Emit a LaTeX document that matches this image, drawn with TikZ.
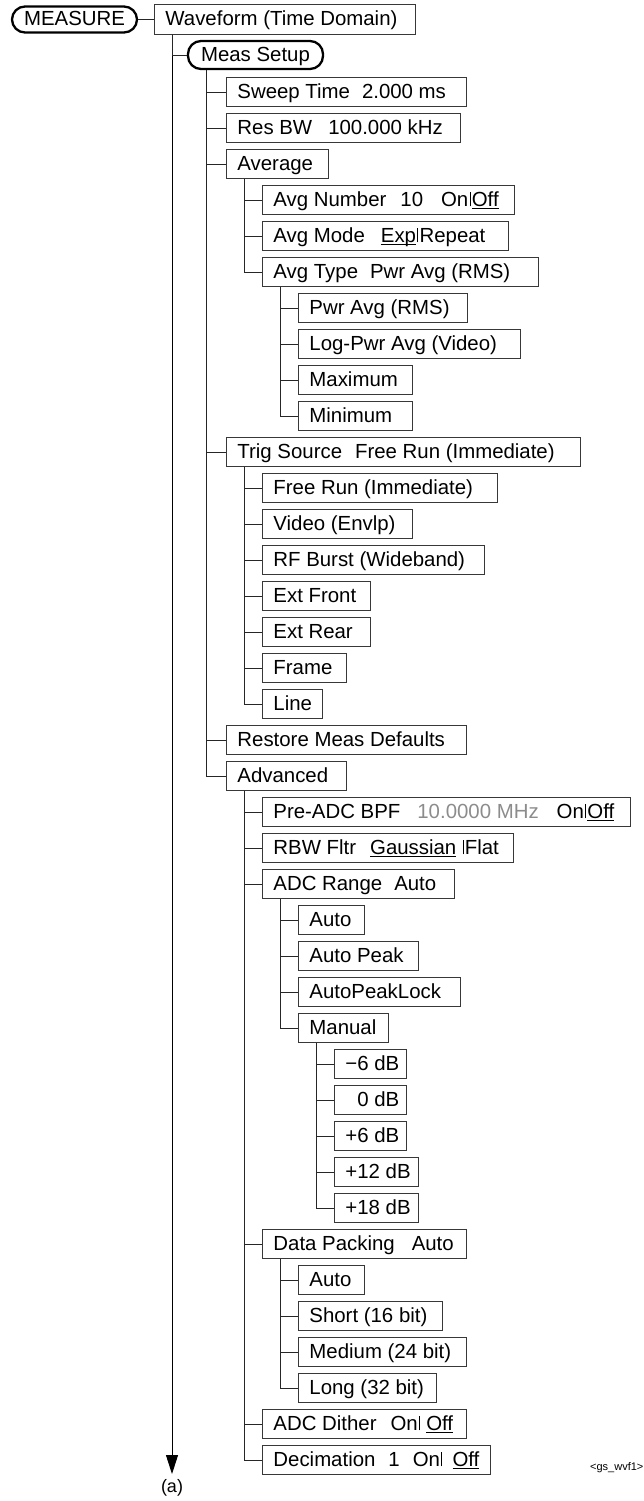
\documentclass[tikz,border=0pt]{standalone}
\usepackage{fontspec}
\setmainfont{Liberation Sans}
\usetikzlibrary{arrows.meta}
\definecolor{boxc}{HTML}{383838}
\definecolor{linkc}{HTML}{262626}
\definecolor{valc}{HTML}{8C8C8C}
\newcommand\myul[1]{\setbox0\hbox{#1}\rlap{\rule[-2.8pt]{\wd0}{1.3pt}}\box0}
\newcommand\mysep{\hspace{1.3pt}\rule{0.9pt}{14.4pt}\hspace{1.3pt}}
\newcommand\mkbox[5]{\pgfmathsetmacro\bxw{#3-#2}\pgfmathsetmacro\bxi{#3-#2-22}\node[mbox,minimum width=\bxw pt] (#1) at (#2,#4) {\makebox[\bxi pt][l]{#5}};}
\begin{document}
\begin{tikzpicture}[x=1pt,y=-1pt,
  mbox/.style={draw=boxc, line width=0.9pt, anchor=west, minimum height=29.5pt, inner xsep=11pt, inner ysep=0pt, text height=14.6pt, text depth=2pt, font=\fontsize{20.4}{24}\selectfont},
  pill/.style={draw=black, line width=2.3pt, rounded corners=13pt, minimum height=26pt, inner xsep=4pt, inner ysep=0pt, text height=14.6pt, text depth=2pt, font=\fontsize{20.4}{24}\selectfont},
  link/.style={draw=linkc, line width=0.8pt},
]
\useasboundingbox (0,0) rectangle (644,1501);
% top
\node[pill, minimum width=125pt] (measure) at (74.5,19.5) {MEASURE};
\mkbox{wave}{154}{415}{19.5}{Waveform (Time Domain)}
\node[pill, minimum width=135pt, minimum height=28pt] (meas) at (255.5,55) {Meas Setup};
% level 2
\mkbox{sweep}{226}{466}{92}{Sweep Time\hspace{12pt}2.000 ms}
\mkbox{resbw}{226}{460}{128}{Res BW\hspace{16pt}100.000 kHz}
\mkbox{average}{226}{328}{164}{Average}
\mkbox{trig}{226}{580}{452}{Trig Source\hspace{13pt}Free Run (Immediate)}
\mkbox{restore}{226}{466}{740}{Restore Meas Defaults}
\mkbox{adv}{226}{346}{776}{Advanced}
% average
\mkbox{avgnum}{262}{514}{200}{Avg Number\hspace{14pt}10\hspace{18pt}On\mysep\myul{Off}}
\mkbox{avgmode}{262}{508}{236}{Avg Mode\hspace{16pt}\myul{Exp}\mysep Repeat}
\mkbox{avgtype}{262}{538}{272}{Avg Type\hspace{12pt}Pwr Avg (RMS)}
\mkbox{pwr}{298}{467}{308}{Pwr Avg (RMS)}
\mkbox{logpwr}{298}{520}{344}{Log-Pwr Avg (Video)}
\mkbox{maxim}{298}{412}{380}{Maximum}
\mkbox{minim}{298}{412}{416}{Minimum}
% trig
\mkbox{free}{262}{497}{488}{Free Run (Immediate)}
\mkbox{video}{262}{412}{524}{Video (Envlp)}
\mkbox{rfb}{262}{484}{560}{RF Burst (Wideband)}
\mkbox{extf}{262}{370}{596}{Ext Front}
\mkbox{extr}{262}{370}{632}{Ext Rear}
\mkbox{frame}{262}{346}{668}{Frame}
\mkbox{line}{262}{322}{704}{Line}
% advanced
\mkbox{preadc}{262}{630}{812}{Pre-ADC BPF\hspace{17pt}\textcolor{valc}{10.0000 MHz}\hspace{18pt}On\mysep\myul{Off}}
\mkbox{rbw}{262}{513}{848}{RBW Fltr\hspace{14pt}\myul{Gaussian}\hspace{5pt}\mysep Flat}
\mkbox{adcr}{262}{454}{884}{ADC Range\hspace{12pt}Auto}
\mkbox{rauto}{298}{364}{920}{Auto}
\mkbox{rpeak}{298}{418}{956}{Auto Peak}
\mkbox{rlock}{298}{460}{992}{AutoPeakLock}
\mkbox{manual}{298}{388}{1028}{Manual}
\mkbox{mm6}{334}{406}{1064}{−6 dB}
\mkbox{mz0}{334}{406}{1100}{\phantom{−}0 dB}
\mkbox{mp6}{334}{406}{1136}{+6 dB}
\mkbox{mp12}{334}{418}{1172}{+12 dB}
\mkbox{mp18}{334}{418}{1208}{+18 dB}
\mkbox{datap}{262}{466}{1244}{Data Packing\hspace{17pt}Auto}
\mkbox{dauto}{298}{364}{1280}{Auto}
\mkbox{dshort}{298}{442}{1316}{Short (16 bit)}
\mkbox{dmed}{298}{466}{1352}{Medium (24 bit)}
\mkbox{dlong}{298}{436}{1388}{Long (32 bit)}
\mkbox{dither}{262}{466}{1424}{ADC Dither\hspace{14pt}On\mysep\hspace{5pt}\myul{Off}}
\mkbox{decim}{262}{490}{1460}{Decimation\hspace{13pt}1\hspace{13pt}On\mysep\hspace{9pt}\myul{Off}}
% end labels
\coordinate (atip) at (172,1474);
\node[font=\fontsize{18}{20}\selectfont, inner sep=0pt] (alabel) at (172,1488) {(a)};
\node[font=\fontsize{11}{13}\selectfont, anchor=west, inner sep=0pt] (tag) at (590,1468) {<gs\_wvf1>};
% connectors
\draw[link] (measure.east) -- (wave.west);
\draw[link, line width=0.9pt, draw=black, -{Triangle[length=19pt,width=12pt]}] ([xshift=18pt]wave.south west) -- (atip);
\draw[link] ([xshift=18pt]wave.south west) |- (meas.west);
\foreach \c in {sweep,resbw,average,trig,restore,adv}
  \draw[link] ([xshift=20pt]meas.south west) |- (\c.west);
\foreach \c in {avgnum,avgmode,avgtype}
  \draw[link] ([xshift=18pt]average.south west) |- (\c.west);
\foreach \c in {pwr,logpwr,maxim,minim}
  \draw[link] ([xshift=18pt]avgtype.south west) |- (\c.west);
\foreach \c in {free,video,rfb,extf,extr,frame,line}
  \draw[link] ([xshift=18pt]trig.south west) |- (\c.west);
\foreach \c in {preadc,rbw,adcr,datap,dither,decim}
  \draw[link] ([xshift=18pt]adv.south west) |- (\c.west);
\foreach \c in {rauto,rpeak,rlock,manual}
  \draw[link] ([xshift=18pt]adcr.south west) |- (\c.west);
\foreach \c in {mm6,mz0,mp6,mp12,mp18}
  \draw[link] ([xshift=18pt]manual.south west) |- (\c.west);
\foreach \c in {dauto,dshort,dmed,dlong}
  \draw[link] ([xshift=18pt]datap.south west) |- (\c.west);
\end{tikzpicture}
\end{document}
